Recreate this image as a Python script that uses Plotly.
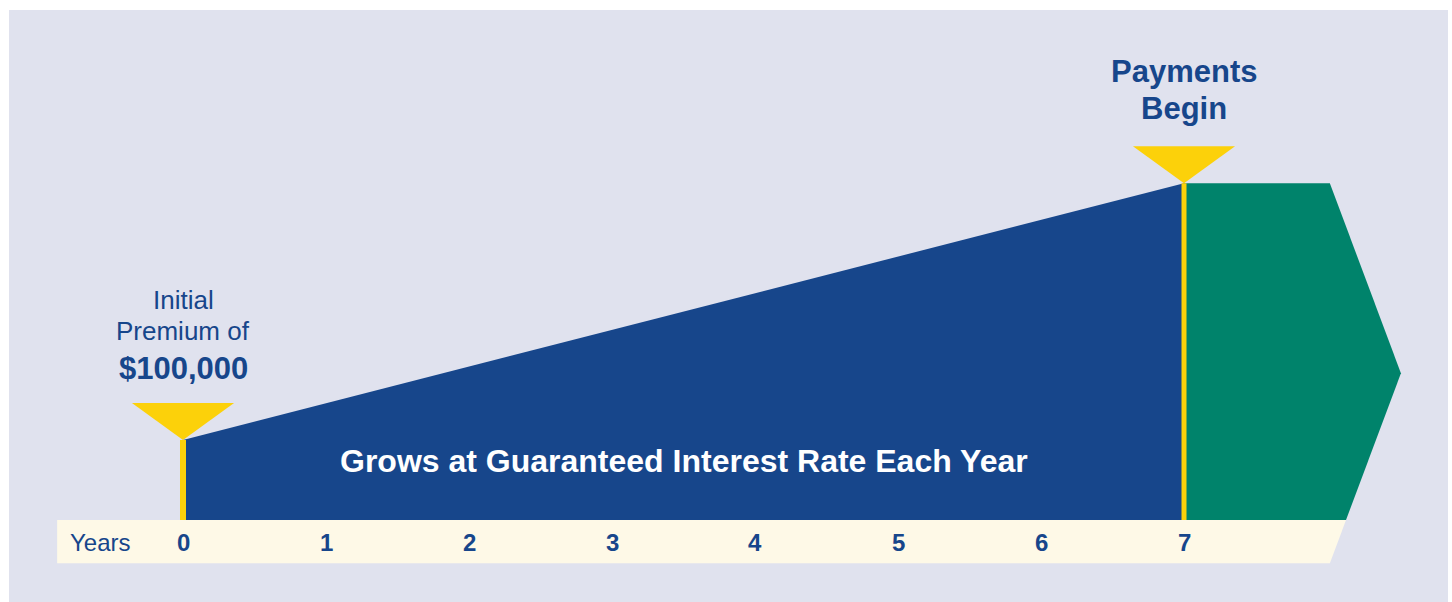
import plotly.graph_objects as go

# ---- data ----
years = [0, 1, 2, 3, 4, 5, 6, 7]
year_labels = ["0", "1", "2", "3", "4", "5", "6", "7"]
growth_years = [0, 7]            # accumulation phase: premium paid -> payments begin
account_value = [1.0, 4.21]      # relative account value (schematic)
premium_label = "$100,000"
phase_text = "Grows at Guaranteed Interest Rate Each Year"

# ---- styling / geometry ----
BLUE = "#17468b"
GREEN = "#00836b"
YELLOW = "#fcd10a"
CREAM = "#fef9e7"
LAVENDER = "#e0e2ee"
TEXT = "#17468b"
FONT = "Liberation Sans, Arial, Helvetica, sans-serif"

bar_left = -0.88
bar_bottom = -0.54
payout_end = 8.02
tip_x = 8.517
tri_half = 0.357
tri_h = 0.4625

x0, x7 = growth_years
v0, v7 = account_value
tip_y = (v7 + bar_bottom) / 2
slope = (tip_x - payout_end) / (v7 - tip_y)
edge_at_zero = payout_end + slope * (0 - bar_bottom)

fig = go.Figure()

# payout phase arrow (green)
fig.add_trace(go.Scatter(
    x=[x7, payout_end, tip_x, edge_at_zero, x7],
    y=[v7, v7, tip_y, 0, 0],
    fill="toself", fillcolor=GREEN, line=dict(width=0), mode="lines", hoverinfo="skip"))

# timeline bar (cream)
fig.add_trace(go.Scatter(
    x=[bar_left, edge_at_zero, payout_end, bar_left],
    y=[0, 0, bar_bottom, bar_bottom],
    fill="toself", fillcolor=CREAM, line=dict(width=0), mode="lines", hoverinfo="skip"))

# accumulation phase (blue)
fig.add_trace(go.Scatter(
    x=[x0, x7, x7, x0],
    y=[v0, v7, 0, 0],
    fill="toself", fillcolor=BLUE, line=dict(width=0), mode="lines", hoverinfo="skip"))

# yellow markers (stem + funnel)
for xv, yv, w in [(x0, v0, 6), (x7, v7, 5)]:
    fig.add_trace(go.Scatter(x=[xv, xv], y=[0, yv], mode="lines",
                             line=dict(color=YELLOW, width=w), hoverinfo="skip"))
    fig.add_trace(go.Scatter(
        x=[xv - tri_half, xv + tri_half, xv],
        y=[yv + tri_h, yv + tri_h, yv],
        fill="toself", fillcolor=YELLOW, line=dict(width=0), mode="lines", hoverinfo="skip"))

ann = []
# tick labels
for xv, lab in zip(years, year_labels):
    ann.append(dict(x=xv, y=-0.275, text="<b>" + lab + "</b>", showarrow=False,
                    font=dict(family=FONT, size=24, color=TEXT), xanchor="center", yanchor="middle"))
ann.append(dict(x=-0.804, y=-0.275, text="Years", showarrow=False,
                font=dict(family=FONT, size=24, color=TEXT), xanchor="left", yanchor="middle"))

# premium label
ann.append(dict(x=x0, y=2.75, text="Initial", showarrow=False,
                font=dict(family=FONT, size=26, color=TEXT), xanchor="center", yanchor="middle"))
ann.append(dict(x=x0, y=2.3625, text="Premium of", showarrow=False,
                font=dict(family=FONT, size=26, color=TEXT), xanchor="center", yanchor="middle"))
ann.append(dict(x=x0, y=1.9, text="<b>" + premium_label + "</b>", showarrow=False,
                font=dict(family=FONT, size=31, color=TEXT), xanchor="center", yanchor="middle"))

# payments begin
ann.append(dict(x=x7, y=5.6125, text="<b>Payments</b>", showarrow=False,
                font=dict(family=FONT, size=31, color=TEXT), xanchor="center", yanchor="middle"))
ann.append(dict(x=x7, y=5.15, text="<b>Begin</b>", showarrow=False,
                font=dict(family=FONT, size=31, color=TEXT), xanchor="center", yanchor="middle"))

# phase text
ann.append(dict(x=3.5, y=0.7375, text="<b>" + phase_text + "</b>", showarrow=False,
                font=dict(family=FONT, size=32, color="white"), xanchor="center", yanchor="middle"))

fig.update_layout(
    width=1452, height=602, autosize=False,
    margin=dict(l=0, r=0, t=0, b=0),
    paper_bgcolor="white", plot_bgcolor="rgba(0,0,0,0)",
    showlegend=False,
    xaxis=dict(range=[-183 / 143, (1452 - 183) / 143], visible=False, fixedrange=True),
    yaxis=dict(range=[-1.025, 6.5], visible=False, fixedrange=True),
    annotations=ann,
    shapes=[dict(type="rect", xref="paper", yref="paper",
                 x0=9 / 1452, x1=1448 / 1452, y0=-0.01, y1=592 / 602,
                 fillcolor=LAVENDER, line=dict(width=0), layer="below")],
)

fig.write_html("out.html", config={"displayModeBar": False},
               post_script="document.body.style.margin='0';document.body.style.overflow='hidden';")
